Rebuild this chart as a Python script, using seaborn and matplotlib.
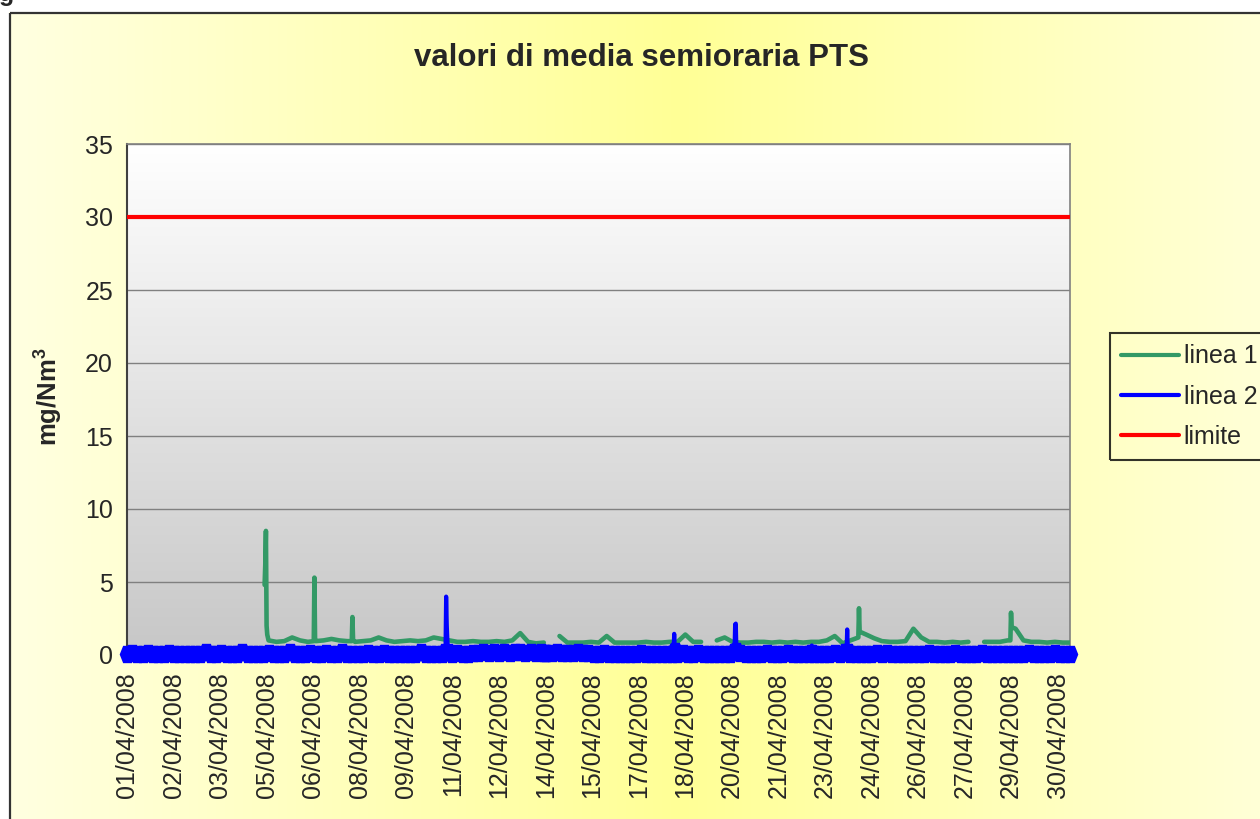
import numpy as np
import pandas as pd
import matplotlib
matplotlib.use("Agg")
import matplotlib.pyplot as plt
from matplotlib.lines import Line2D
from matplotlib.patches import Rectangle
from matplotlib.path import Path
import seaborn as sns

# ==========================================
# DATA (half-hourly averages, April 2008 -> 1440 samples)
# ==========================================
N_SAMPLES = 1440
nan = float("nan")

TICK_LABELS = ["01/04/2008", "02/04/2008", "03/04/2008", "05/04/2008", "06/04/2008",
               "08/04/2008", "09/04/2008", "11/04/2008", "12/04/2008", "14/04/2008",
               "15/04/2008", "17/04/2008", "18/04/2008", "20/04/2008", "21/04/2008",
               "23/04/2008", "24/04/2008", "26/04/2008", "27/04/2008", "29/04/2008",
               "30/04/2008"]
LABEL_STEP = 71      # one category label every 71 samples
MINOR_STEP = 50      # one tick mark every 50 samples
LIMITE = 30

# linea 1: value read every 12 samples (6 h), nan = no data
LINEA1_STEP = 12
linea1_base = [
    nan, nan, nan, nan, nan, nan, nan, nan, nan, nan, nan, nan,
    nan, nan, nan, nan, nan, nan, 1.0, 0.9, 0.95, 1.2, 1.0, 0.9,
    0.95, 1.0, 1.1, 1.0, 0.95, 0.9, 0.95, 1.0, 1.2, 1.0, 0.9, 0.95,
    1.0, 0.95, 1.0, 1.2, 1.1, 1.0, 0.9, 0.9, 0.95, 0.9, 0.9, 0.95,
    0.9, 1.0, 1.5, 0.9, 0.8, 0.85, nan, 1.3, 0.85, 0.85, 0.85, 0.9,
    0.85, 1.3, 0.85, 0.85, 0.85, 0.85, 0.9, 0.85, 0.85, 0.9, 0.9, 1.4,
    0.9, 0.9, nan, 1.0, 1.2, 0.9, 0.85, 0.85, 0.9, 0.9, 0.85, 0.9,
    0.85, 0.9, 0.85, 0.9, 0.9, 1.0, 1.3, 0.8, 1.0, 1.2, 1.4, 1.15,
    0.95, 0.9, 0.9, 0.95, 1.8, 1.2, 0.9, 0.9, 0.85, 0.9, 0.85, 0.9,
    nan, 0.9, 0.9, 0.9, 1.0, 1.8, 1.0, 0.9, 0.9, 0.85, 0.9, 0.85,
]
# sharp peaks of linea 1 (sample index, value)
linea1_peak_idx = [210, 211, 212, 213, 214, 285, 286, 287, 343, 344, 345,
                   1116, 1117, 1118, 1348, 1349, 1350, 1439]
linea1_peak_val = [4.8, 6.2, 8.5, 2.0, 1.4, 0.95, 5.3, 1.0, 0.95, 2.6, 1.0,
                   1.2, 3.2, 1.6, 1.0, 2.9, 1.9, 0.85]

# linea 2: value read every 8 samples (4 h)
LINEA2_STEP = 8
linea2_base = [
    0.1, 0.15, 0.1, 0.1, 0.15, 0.1,
    0.1, 0.1, 0.15, 0.1, 0.1, 0.1,
    0.1, 0.1, 0.1, 0.2, 0.1, 0.1,
    0.15, 0.1, 0.1, 0.1, 0.2, 0.1,
    0.1, 0.1, 0.1, 0.15, 0.1, 0.1,
    0.1, 0.2, 0.1, 0.1, 0.1, 0.15,
    0.1, 0.1, 0.15, 0.1, 0.1, 0.2,
    0.1, 0.1, 0.1, 0.1, 0.15, 0.1,
    0.1, 0.15, 0.1, 0.1, 0.1, 0.1,
    0.1, 0.1, 0.2, 0.1, 0.1, 0.1,
    0.1, 0.1, 0.1, 0.15, 0.1, 0.1,
    0.15, 0.15, 0.2, 0.15, 0.2, 0.15,
    0.2, 0.15, 0.2, 0.2, 0.15, 0.2,
    0.15, 0.2, 0.15, 0.15, 0.2, 0.15,
    0.15, 0.15, 0.2, 0.15, 0.15, 0.1,
    0.1, 0.15, 0.1, 0.1, 0.1, 0.1,
    0.1, 0.1, 0.15, 0.1, 0.1, 0.1,
    0.1, 0.1, 0.1, 0.1, 0.15, 0.1,
    0.1, 0.15, 0.1, 0.1, 0.1, 0.1,
    0.1, 0.1, 0.1, 0.15, 0.1, 0.1,
    0.1, 0.1, 0.15, 0.1, 0.1, 0.1,
    0.15, 0.1, 0.1, 0.1, 0.1, 0.1,
    0.1, 0.1, 0.1, 0.15, 0.1, 0.2,
    0.1, 0.1, 0.1, 0.1, 0.1, 0.15,
    0.1, 0.15, 0.1, 0.1, 0.1, 0.1,
    0.1, 0.1, 0.1, 0.15, 0.1, 0.1,
    0.1, 0.1, 0.15, 0.1, 0.1, 0.1,
    0.1, 0.15, 0.1, 0.1, 0.1, 0.1,
    0.1, 0.1, 0.1, 0.1, 0.15, 0.1,
    0.1, 0.1, 0.1, 0.15, 0.1, 0.1,
]
linea2_peak_idx = [486, 487, 488, 489, 490, 636, 637, 638, 834, 835, 836,
                   927, 928, 929, 930, 1044, 1045, 1046, 1098, 1099, 1100, 1439]
linea2_peak_val = [0.2, 4.0, 2.0, 0.9, 0.2, 0.15, 0.6, 0.15, 0.2, 1.45, 0.3,
                   0.2, 2.1, 2.15, 0.3, 0.15, 0.65, 0.15, 0.2, 1.75, 0.2, 0.1]

GREEN = "#339966"
BLUE = "#0000FF"
RED = "#FF0000"


def build_series(base, step, peak_idx, peak_val):
    peaks = pd.DataFrame({"idx": peak_idx, "val": peak_val})
    regular = pd.DataFrame({"idx": np.arange(len(base)) * step, "val": base})
    df = pd.concat([peaks, regular]).drop_duplicates("idx", keep="first")
    df = df.sort_values("idx").reset_index(drop=True)
    df["seg"] = df["val"].isna().cumsum()   # break the line where data is missing
    return df.dropna().reset_index(drop=True)


l1 = build_series(linea1_base, LINEA1_STEP, linea1_peak_idx, linea1_peak_val)
l2 = build_series(linea2_base, LINEA2_STEP, linea2_peak_idx, linea2_peak_val)

# ==========================================
# STYLE
# ==========================================
sns.set_style("white")
plt.rcParams["font.family"] = ["Liberation Sans", "DejaVu Sans"]
plt.rcParams["mathtext.fontset"] = "custom"
plt.rcParams["mathtext.rm"] = "Liberation Sans"
plt.rcParams["mathtext.bf"] = "Liberation Sans:bold"

W, H = 1260, 819
fig = plt.figure(figsize=(W / 100, H / 100), dpi=100, facecolor="white")

# chart area: yellow horizontal gradient inside a dark frame
bg = fig.add_axes([0, 0, 1, 1], zorder=-10)
bg.set_xlim(0, W)
bg.set_ylim(H, 0)
bg.axis("off")
xs = np.arange(9, W + 1)
t = np.clip(np.abs(xs - 680) / 670.0, 0, 1)[:, None]
centre = np.array([255, 255, 150]) / 255.0
edge = np.array([255, 255, 225]) / 255.0
grad = (centre * (1 - t) + edge * t)[None, :, :]
bg.imshow(grad, extent=(9, W, H, 12), aspect="auto", interpolation="bilinear")
bg.add_patch(Rectangle((9.5, 12.5), 1400, 900, fill=False, ec="#333333", lw=1.6))
fig.text(-0.5 / W, 1 - 1.5 / H, "g", fontsize=18, fontweight="bold", va="baseline", ha="left")

# plot area
ax = fig.add_axes([127 / W, 1 - 655 / H, 943 / W, 511 / H])
ax.patch.set_alpha(0)
vgrad = np.linspace(1.0, 0.78, 256)[:, None]
ax.imshow(np.dstack([vgrad, vgrad, vgrad]), extent=[0, 1, 0, 1], transform=ax.transAxes,
          aspect="auto", zorder=-1, interpolation="bilinear")
ax.yaxis.grid(True, color="#808080", lw=1.0, zorder=0.5)
ax.set_axisbelow(True)

ax.axhline(LIMITE, color=RED, lw=3.0, zorder=3)

sns.lineplot(data=l1, x="idx", y="val", units="seg", estimator=None, sort=False,
             color=GREEN, lw=3.3, solid_joinstyle="round", solid_capstyle="round",
             legend=False, ax=ax, zorder=4)

band = Path([(-0.9, 0), (-0.5, 1), (0.5, 1), (0.9, 0), (0.5, -1), (-0.5, -1), (-0.9, 0)],
            [Path.MOVETO] + [Path.LINETO] * 5 + [Path.CLOSEPOLY])
mark_pts = list(np.flatnonzero(l2["val"].to_numpy() < 0.5))
sns.lineplot(data=l2, x="idx", y="val", estimator=None, sort=False,
             color=BLUE, lw=3.0, solid_joinstyle="round", solid_capstyle="round",
             marker=band, markersize=12.5, markeredgewidth=0, markerfacecolor=BLUE,
             markevery=mark_pts, clip_on=False, legend=False, ax=ax, zorder=5)

ax.set_xlim(0, N_SAMPLES - 1)
ax.set_ylim(0, 35)
ax.set_yticks(range(0, 36, 5))
ax.set_xticks(np.arange(len(TICK_LABELS)) * LABEL_STEP)
ax.set_xticklabels(TICK_LABELS, rotation=90)
ax.set_xticks(np.arange(0, N_SAMPLES, MINOR_STEP), minor=True)
ax.tick_params(axis="x", which="major", length=0, pad=12.5, labelsize=18)
ax.tick_params(axis="x", which="minor", length=3, width=1, color="#404040", direction="out")
ax.tick_params(axis="y", length=4.5, width=1, color="#404040", pad=5.5, labelsize=18, direction="out")
ax.set_xlabel("")
ax.set_ylabel(r"mg/Nm$^{\mathbf{3}}$", fontsize=18.5, fontweight="bold")
ax.yaxis.set_label_coords(-0.0665, 0.505)

for side in ["left", "bottom"]:
    ax.spines[side].set_color("#404040")
    ax.spines[side].set_linewidth(1.5)
for side in ["top", "right"]:
    ax.spines[side].set_color("#808080")
    ax.spines[side].set_linewidth(1.2)
    ax.spines[side].set_visible(True)

fig.text(641.5 / W, 1 - 58 / H, "valori di media semioraria PTS", ha="center", va="center",
         fontsize=22.5, fontweight="bold")

handles = [Line2D([], [], color=GREEN, lw=3),
           Line2D([], [], color=BLUE, lw=3),
           Line2D([], [], color=RED, lw=3)]
leg = fig.legend(handles, ["linea 1", "linea 2", "limite"], loc="upper left",
                 bbox_to_anchor=(1110 / W, 1 - 333 / H), borderaxespad=0, fontsize=18,
                 frameon=True, fancybox=False, handlelength=2.3, handletextpad=0.2,
                 labelspacing=0.65, borderpad=0.45)
leg.get_frame().set_edgecolor("black")
leg.get_frame().set_linewidth(1.5)
leg.get_frame().set_facecolor("none")

fig.savefig("out.png", dpi=100)
